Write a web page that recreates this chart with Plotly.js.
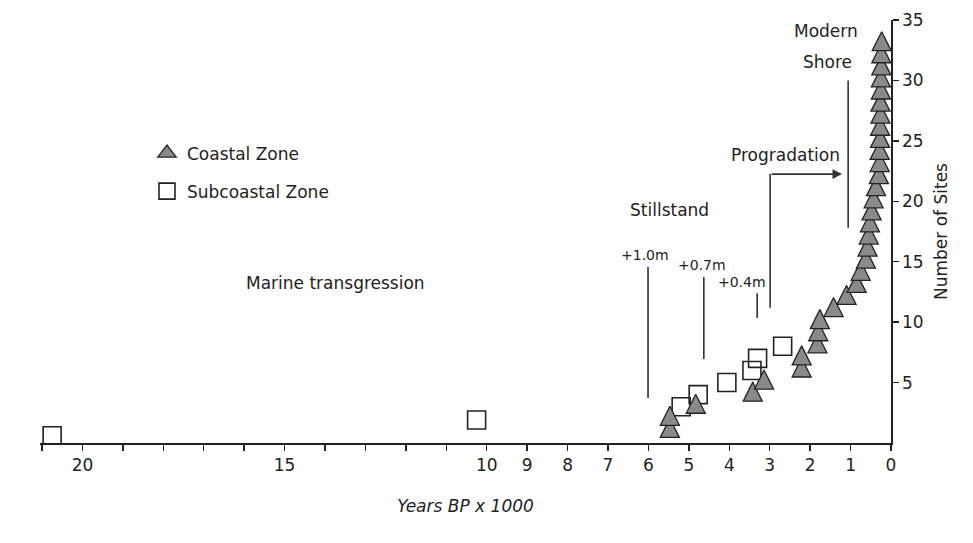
<!DOCTYPE html>
<html>
<head>
<meta charset="utf-8">
<script src="https://cdn.plot.ly/plotly-3.0.1.min.js"></script>
<style>html,body{margin:0;padding:0;background:#fff;}#chart{width:973px;height:543px;}</style>
</head>
<body>
<div id="chart"></div>
<script>
// Years BP x 1000 (x) and cumulative number of sites (y)
var coastalYears = [5.47, 5.47, 4.83, 3.42, 3.14, 2.21, 2.21, 1.82, 1.80, 1.76, 1.42, 1.10, 0.85, 0.75, 0.62, 0.58, 0.55, 0.52, 0.48, 0.43, 0.37, 0.30, 0.28, 0.28, 0.27, 0.27, 0.26, 0.26, 0.25, 0.25, 0.24, 0.24, 0.23];
var coastalSites = [1, 2, 3, 4, 5, 6, 7, 8, 9, 10, 11, 12, 13, 14, 15, 16, 17, 18, 19, 20, 21, 22, 23, 24, 25, 26, 27, 28, 29, 30, 31, 32, 33];
var subcoastalYears = [20.75, 10.25, 5.19, 4.77, 4.06, 3.44, 3.30, 2.68];
var subcoastalSites = [0.6, 1.9, 3, 4, 5, 6, 7, 8];

var xTickVals = [21, 20, 19, 18, 17, 16, 15, 14, 13, 12, 11, 10, 9, 8, 7, 6, 5, 4, 3, 2, 1, 0];
var xTickText = ['', '20', '', '', '', '', '15', '', '', '', '', '10', '9', '8', '7', '6', '5', '4', '3', '2', '1', '0'];
var yTickVals = [5, 10, 15, 20, 25, 30, 35];

var FONT = 'DejaVu Sans, Liberation Sans, Arial, sans-serif';
var INK = '#222222';
var TRI_FILL = '#8a8a8a';

var traces = [
  {
    x: subcoastalYears, y: subcoastalSites, type: 'scatter', mode: 'markers',
    name: 'Subcoastal Zone', legendgroup: 'sub', legendrank: 2,
    marker: {symbol: 'square-open', size: 18, color: INK, line: {width: 1.6, color: INK}},
    hoverinfo: 'x+y'
  },
  {
    x: coastalYears, y: coastalSites, type: 'scatter', mode: 'markers',
    name: 'Coastal Zone', legendgroup: 'coast', showlegend: false,
    marker: {symbol: 'arrow-down', angle: 180, size: 19, standoff: 12.5, color: TRI_FILL, line: {width: 1.3, color: INK}},
    hoverinfo: 'x+y'
  },
  {
    // legend entry only (no data)
    x: [null], y: [null], type: 'scatter', mode: 'markers',
    name: 'Coastal Zone', legendgroup: 'coast', legendrank: 1, hoverinfo: 'skip',
    marker: {symbol: 'triangle-up', size: 17, color: TRI_FILL, line: {width: 1.3, color: INK}}
  }
];

function vline(x, y0, y1) {
  return {type: 'line', xref: 'x', yref: 'y', x0: x, x1: x, y0: y0, y1: y1, line: {color: '#333', width: 1.6}};
}
function label(x, y, text, size) {
  return {x: x, y: y, xref: 'x', yref: 'y', text: text, showarrow: false,
          font: {family: FONT, size: size, color: INK}, xanchor: 'center', yanchor: 'middle'};
}

var layout = {
  width: 973, height: 543,
  margin: {l: 40, r: 82, t: 20, b: 100},
  paper_bgcolor: '#ffffff', plot_bgcolor: '#ffffff',
  font: {family: FONT, size: 17, color: INK},
  showlegend: true,
  legend: {x: 0.1257, y: 0.727, xanchor: 'left', yanchor: 'top', bgcolor: 'rgba(0,0,0,0)',
           traceorder: 'grouped', tracegroupgap: 13, font: {family: FONT, size: 17, color: INK}},
  xaxis: {
    range: [21.05, 0], showgrid: false, zeroline: false,
    showline: true, linecolor: INK, linewidth: 1.6,
    ticks: 'outside', ticklen: 6, tickwidth: 1.4, tickcolor: INK,
    tickmode: 'array', tickvals: xTickVals, ticktext: xTickText,
    tickfont: {family: FONT, size: 17, color: INK},
    title: {text: '<i>Years BP x 1000</i>', font: {family: FONT, size: 17, color: INK}, standoff: 26}
  },
  yaxis: {
    range: [0, 35], side: 'right', showgrid: false, zeroline: false,
    showline: true, linecolor: INK, linewidth: 1.6,
    ticks: 'outside', ticklen: 6, tickwidth: 1.4, tickcolor: INK,
    tickmode: 'array', tickvals: yTickVals,
    tickfont: {family: FONT, size: 17, color: INK},
    title: {text: 'Number of Sites', font: {family: FONT, size: 17, color: INK}, standoff: 12}
  },
  shapes: [
    vline(1.06, 30.0, 17.8),
    vline(2.99, 22.25, 11.2),
    vline(6.01, 14.56, 3.72),
    vline(4.63, 13.73, 6.95),
    vline(3.31, 12.4, 10.34)
  ],
  annotations: [
    label(1.61, 34.1, 'Modern', 17),
    label(1.58, 31.5, 'Shore', 17),
    label(2.62, 23.8, 'Progradation', 17),
    label(5.49, 19.3, 'Stillstand', 17),
    label(6.08, 15.55, '+1.0m', 14),
    label(4.67, 14.7, '+0.7m', 14),
    label(3.69, 13.3, '+0.4m', 14),
    label(13.75, 13.2, 'Marine transgression', 17),
    {x: 1.21, y: 22.25, ax: 2.99, ay: 22.25, xref: 'x', yref: 'y', axref: 'x', ayref: 'y',
     text: '', showarrow: true, arrowhead: 2, arrowsize: 1.2, arrowwidth: 1.6, arrowcolor: '#333'}
  ]
};

Plotly.newPlot('chart', traces, layout, {displayModeBar: false, staticPlot: true});
</script>
</body>
</html>
